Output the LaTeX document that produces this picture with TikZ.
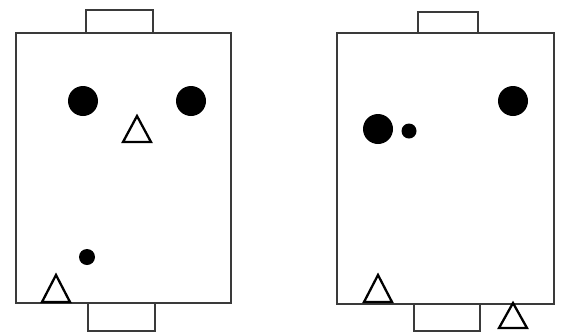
\documentclass[tikz,border=0pt]{standalone}
\usepackage{xcolor}
\definecolor{pitchline}{HTML}{3A3A3A}

\begin{document}
\begin{tikzpicture}[x=1pt, y=-1pt,
    pitch/.style={draw=pitchline, line width=2.3pt},
    player/.style={fill=black},
    cone/.style={draw=black, line width=2.3pt, fill=white, line join=miter}]
    \useasboundingbox (0,0) rectangle (562,333);
    % Left pitch with its two goals
    \draw[pitch] (16,33) rectangle (231,303);
    \draw[pitch] (86,33) -- (86,10) -- (153,10) -- (153,33);
    \draw[pitch] (88,303) -- (88,331) -- (155,331) -- (155,303);
    \fill[player] (83,101) circle (15pt);
    \fill[player] (191,101) circle (15pt);
    \fill[player] (87,257) circle (8pt);
    \draw[cone] (137,116) -- (151,142) -- (123,142) -- cycle;
    \draw[cone] (56,275) -- (70,302) -- (42,302) -- cycle;
    % Right pitch with its two goals
    \draw[pitch] (337,33) rectangle (554,304);
    \draw[pitch] (418,33) -- (418,12) -- (478,12) -- (478,33);
    \draw[pitch] (414,304) -- (414,331) -- (480,331) -- (480,304);
    \fill[player] (378,129) circle (15pt);
    \fill[player] (409,131) circle (7.5pt);
    \fill[player] (513,101) circle (15pt);
    \draw[cone] (378,275) -- (392,302) -- (364,302) -- cycle;
    \draw[cone] (513,303) -- (527,328) -- (499,328) -- cycle;
\end{tikzpicture}
\end{document}
